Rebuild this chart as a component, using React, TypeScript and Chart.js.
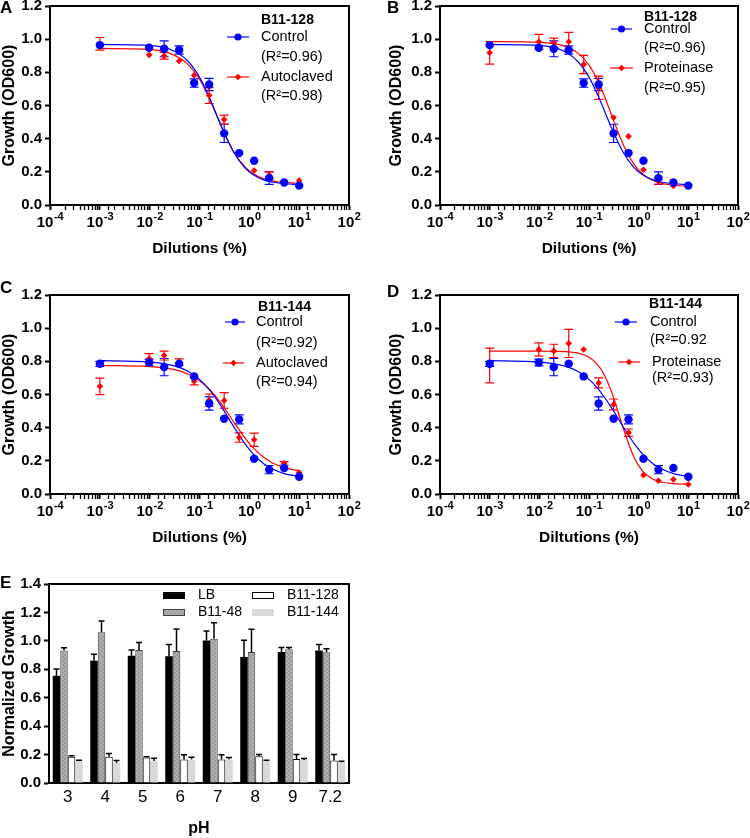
import React, { useEffect, useRef } from 'react';
import { Chart, registerables } from 'chart.js';

Chart.register(...registerables);

const FONT = "'Liberation Sans', Arial, Helvetica, sans-serif";
const BLUE = '#0000ff';
const RED = '#ff0000';

// ---------- data: dose-response panels ----------
const DILUTIONS = [0.001, 0.009765625, 0.01953125, 0.0390625, 0.078125, 0.15625, 0.3125, 0.625, 1.25, 2.5, 5, 10];

const B128_CONTROL = [0.964, 0.948, 0.942, 0.935, 0.735, 0.727, 0.432, 0.313, 0.267, 0.162, 0.136, 0.117];
const B128_CONTROL_ERR = [0, 0, 0.048, 0.025, 0.025, 0.037, 0.055, 0, 0, 0.038, 0, 0];
const B128_AUTOCLAVED = [0.972, 0.905, 0.9, 0.868, 0.783, 0.66, 0.515, 0.31, 0.208, 0.18, 0.135, 0.147];
const B128_AUTOCLAVED_ERR = [0.038, 0, 0.02, 0, 0, 0.048, 0.027, 0, 0, 0.02, 0, 0];
const B128_PROTEINASE = [0.918, 0.984, 0.978, 0.984, 0.847, 0.707, 0.528, 0.414, 0.213, 0.145, 0.115, 0.12];
const B128_PROTEINASE_ERR = [0.068, 0.045, 0.028, 0.057, 0.055, 0.07, 0, 0, 0, 0.02, 0, 0];

const B144_CONTROL = [0.785, 0.793, 0.765, 0.785, 0.709, 0.546, 0.454, 0.45, 0.213, 0.147, 0.157, 0.104];
const B144_CONTROL_ERR = [0.015, 0.02, 0.052, 0, 0, 0.04, 0, 0.027, 0, 0.025, 0, 0];
const B144_AUTOCLAVED = [0.649, 0.817, 0.835, 0.795, 0.68, 0.566, 0.564, 0.34, 0.327, 0.15, 0.185, 0.13];
const B144_AUTOCLAVED_ERR = [0.05, 0.03, 0.027, 0.02, 0.022, 0.037, 0.047, 0.028, 0.04, 0, 0.01, 0];
const B144_PROTEINASE = [0.775, 0.871, 0.863, 0.908, 0.871, 0.67, 0.54, 0.37, 0.114, 0.08, 0.088, 0.058];
const B144_PROTEINASE_ERR = [0.105, 0.04, 0.04, 0.085, 0, 0.03, 0.033, 0.022, 0, 0, 0, 0];

// fitted curves at these dilutions
const CURVE_X = [0.001, 0.01, 0.03, 0.06, 0.1, 0.15, 0.2, 0.3, 0.5, 0.8, 1.2, 2, 3, 5, 10];
const FIT_128_CONTROL = [0.968, 0.962, 0.93, 0.864, 0.771, 0.664, 0.575, 0.448, 0.312, 0.227, 0.182, 0.15, 0.137, 0.128, 0.123];
const FIT_128_AUTOCLAVED = [0.944, 0.938, 0.905, 0.845, 0.758, 0.655, 0.57, 0.446, 0.315, 0.232, 0.188, 0.157, 0.144, 0.136, 0.131];
const FIT_128_PROTEINASE = [0.985, 0.981, 0.961, 0.916, 0.844, 0.75, 0.663, 0.524, 0.358, 0.247, 0.187, 0.146, 0.129, 0.119, 0.113];
const FIT_144_CONTROL = [0.804, 0.797, 0.774, 0.739, 0.691, 0.637, 0.588, 0.509, 0.4, 0.307, 0.241, 0.18, 0.149, 0.123, 0.105];
const FIT_144_AUTOCLAVED = [0.775, 0.768, 0.751, 0.722, 0.683, 0.638, 0.597, 0.527, 0.429, 0.342, 0.278, 0.218, 0.185, 0.159, 0.14];
const FIT_144_PROTEINASE = [0.862, 0.862, 0.859, 0.849, 0.824, 0.779, 0.722, 0.596, 0.388, 0.223, 0.138, 0.087, 0.071, 0.062, 0.059];

const Y_TICKS_DOSE = { min: 0, max: 1.2, step: 0.2 };
const X_RANGE = { min: 0.0001, max: 100 };

// ---------- data: pH panel ----------
const PH_LABELS = ['3', '4', '5', '6', '7', '8', '9', '7.2'];
const LB = [0.755, 0.861, 0.896, 0.892, 1.002, 0.887, 0.922, 0.932];
const LB_ERR = [0.047, 0.045, 0.04, 0.082, 0.068, 0.118, 0.031, 0.042];
const B48 = [0.932, 1.061, 0.936, 0.929, 1.014, 0.922, 0.941, 0.92];
const B48_ERR = [0.02, 0.078, 0.052, 0.155, 0.113, 0.16, 0.012, 0.024];
const B128 = [0.184, 0.184, 0.179, 0.165, 0.165, 0.188, 0.169, 0.158];
const B128_ERR = [0.007, 0.023, 0.005, 0.033, 0.033, 0.012, 0.031, 0.042];
const B144 = [0.153, 0.141, 0.153, 0.165, 0.165, 0.151, 0.16, 0.144];
const B144_ERR = [0.007, 0.017, 0.021, 0.016, 0.014, 0.009, 0.012, 0.009];

// ---------- helpers ----------
function isPow10(v: number): boolean {
  if (!(v > 0)) return false;
  const e = Math.round(Math.log10(v));
  return Math.abs(v / Math.pow(10, e) - 1) < 1e-6;
}
function xy(xs: number[], ys: number[]) {
  return xs.map((x, i) => ({ x, y: ys[i] }));
}

function drawMarker(ctx: CanvasRenderingContext2D, style: string, x: number, y: number, r: number, color: string) {
  ctx.save();
  ctx.fillStyle = color;
  ctx.beginPath();
  if (style === 'circle') {
    ctx.arc(x, y, r, 0, Math.PI * 2);
  } else {
    ctx.moveTo(x, y - r);
    ctx.lineTo(x + r, y);
    ctx.lineTo(x, y + r);
    ctx.lineTo(x - r, y);
    ctx.closePath();
  }
  ctx.fill();
  ctx.restore();
}

const errorBarPlugin = {
  id: 'errorBars',
  beforeDatasetsDraw(chart: any) {
    const ctx = chart.ctx;
    const yScale = chart.scales.y;
    chart.data.datasets.forEach((ds: any, i: number) => {
      if (!ds.errorBars) return;
      const meta = chart.getDatasetMeta(i);
      ctx.save();
      ctx.strokeStyle = ds.errorColor;
      ctx.lineWidth = ds.errorWidth || 1.2;
      meta.data.forEach((el: any, j: number) => {
        const e = ds.errorBars[j];
        if (!e) return;
        const raw = ds.data[j];
        const v = typeof raw === 'number' ? raw : raw.y;
        const x = el.x;
        const cap = ds.errorCap || 4.5;
        const yTop = yScale.getPixelForValue(v + e);
        const yBot = ds.errorUpOnly ? yScale.getPixelForValue(v) : yScale.getPixelForValue(v - e);
        ctx.beginPath();
        ctx.moveTo(x, yTop);
        ctx.lineTo(x, yBot);
        ctx.moveTo(x - cap, yTop);
        ctx.lineTo(x + cap, yTop);
        if (!ds.errorUpOnly) {
          ctx.moveTo(x - cap, yBot);
          ctx.lineTo(x + cap, yBot);
        }
        ctx.stroke();
      });
      ctx.restore();
    });
  },
};

const framePlugin = {
  id: 'frame',
  afterDraw(chart: any, _a: any, opts: any) {
    const { ctx, chartArea: a } = chart;
    ctx.save();
    ctx.strokeStyle = '#000';
    ctx.lineWidth = 2;
    ctx.beginPath();
    ctx.moveTo(a.left - 1, a.top);
    ctx.lineTo(a.right, a.top);
    ctx.lineTo(a.right, a.bottom + 1);
    ctx.stroke();
    if (opts && opts.letter) {
      ctx.fillStyle = '#000';
      ctx.font = `bold 17px ${FONT}`;
      ctx.textBaseline = 'middle';
      ctx.textAlign = 'left';
      ctx.fillText(opts.letter, a.left + opts.dx, a.top + opts.dy);
    }
    ctx.restore();
  },
};

// power-of-ten tick labels with a raised exponent, placed through the x scale
const logLabelPlugin = {
  id: 'logLabels',
  afterDraw(chart: any) {
    const s = chart.scales.x;
    const a = chart.chartArea;
    const ctx = chart.ctx;
    ctx.save();
    ctx.fillStyle = '#000';
    ctx.textBaseline = 'middle';
    ctx.textAlign = 'left';
    s.ticks.forEach((t: any) => {
      if (!isPow10(t.value)) return;
      const e = String(Math.round(Math.log10(t.value)));
      ctx.font = `bold 15px ${FONT}`;
      const wb = ctx.measureText('10').width;
      ctx.font = `bold 11px ${FONT}`;
      const we = ctx.measureText(e).width;
      const x0 = s.getPixelForValue(t.value) - (wb + we) / 2;
      const y = a.bottom + 18;
      ctx.font = `bold 15px ${FONT}`;
      ctx.fillText('10', x0, y);
      ctx.font = `bold 11px ${FONT}`;
      ctx.fillText(e, x0 + wb + 0.5, y - 6);
    });
    ctx.restore();
  },
};

const doseLegendPlugin = {
  id: 'doseLegend',
  afterDraw(chart: any, _a: any, opts: any) {
    if (!opts || !opts.title) return;
    const { ctx, chartArea: a } = chart;
    ctx.save();
    ctx.textBaseline = 'middle';
    ctx.textAlign = 'left';
    ctx.fillStyle = '#000';
    ctx.font = `bold 14px ${FONT}`;
    ctx.fillText(opts.title, a.left + opts.titleX, a.top + opts.titleY);
    ctx.font = `14.5px ${FONT}`;
    const entries = opts.entries || [];
    for (let k = 0; k < entries.length; k++) {
      const e = entries[k];
      const y = a.top + e.y;
      ctx.strokeStyle = e.color;
      ctx.lineWidth = 1.2;
      ctx.beginPath();
      ctx.moveTo(a.left + e.x1, y);
      ctx.lineTo(a.left + e.x2, y);
      ctx.stroke();
      drawMarker(ctx, e.marker, a.left + (e.x1 + e.x2) / 2, y, e.marker === 'circle' ? 3.6 : 3.2, e.color);
      ctx.fillStyle = '#000';
      ctx.fillText(e.label, a.left + e.tx, y);
      ctx.fillText(e.r2, a.left + e.tx, a.top + e.r2y);
    }
    ctx.restore();
  },
};

const barLegendPlugin = {
  id: 'barLegend',
  afterDraw(chart: any, _a: any, opts: any) {
    if (!opts || !opts.items) return;
    const { ctx, chartArea: a } = chart;
    ctx.save();
    ctx.textBaseline = 'middle';
    ctx.textAlign = 'left';
    ctx.font = `14px ${FONT}`;
    const items = opts.items;
    for (let k = 0; k < items.length; k++) {
      const it = items[k];
      const ds = chart.data.datasets[it.dataset];
      const sx = a.left + it.x;
      const sy = a.top + it.y;
      ctx.fillStyle = ds.backgroundColor;
      ctx.fillRect(sx, sy, 22, 7);
      if (ds.borderWidth) {
        ctx.strokeStyle = ds.borderColor;
        ctx.lineWidth = 1;
        ctx.strokeRect(sx + 0.5, sy + 0.5, 21, 6);
      }
      ctx.fillStyle = '#000';
      ctx.fillText(ds.label, sx + 35, sy + 3.5);
    }
    ctx.restore();
  },
};

// ---------- chart configs ----------
function yAxisDose(title: string, width: number) {
  return {
    min: Y_TICKS_DOSE.min,
    max: Y_TICKS_DOSE.max,
    afterFit: (s: any) => {
      s.width = width;
    },
    ticks: {
      stepSize: Y_TICKS_DOSE.step,
      padding: 3,
      color: '#000',
      font: { family: FONT, size: 15, weight: 'bold' },
      callback: (v: any) => Number(v).toFixed(1),
    },
    grid: { drawOnChartArea: false, drawTicks: true, tickLength: 5, tickColor: '#000', tickWidth: 2, color: '#000' },
    border: { display: true, color: '#000', width: 2 },
    title: { display: true, text: title, color: '#000', padding: 0, font: { family: FONT, size: 16, weight: 'bold' } },
  };
}

interface Entry { label: string; r2: string; color: string; marker: string; x1: number; x2: number; tx: number; y: number; r2y: number }
interface DosePanel {
  letter: string; letterDx: number; letterDy: number;
  legendTitle: string; titleX: number; titleY: number;
  ctrl: number[]; ctrlErr: number[]; ctrlFit: number[];
  trt: number[]; trtErr: number[]; trtFit: number[];
  entries: Entry[];
  xTitle: string; yWidth: number; padRight: number;
}

function doseConfig(p: DosePanel): any {
  return {
    type: 'scatter',
    data: {
      datasets: [
        {
          label: p.entries[0].label, data: xy(DILUTIONS, p.ctrl), showLine: false,
          pointStyle: 'circle', pointRadius: 4.2, backgroundColor: BLUE, borderColor: BLUE, borderWidth: 0,
          errorBars: p.ctrlErr, errorColor: BLUE,
        },
        {
          label: p.entries[1].label, data: xy(DILUTIONS, p.trt), showLine: false,
          pointStyle: 'rectRot', pointRadius: 3.3, backgroundColor: RED, borderColor: RED, borderWidth: 0,
          errorBars: p.trtErr, errorColor: RED,
        },
        {
          label: p.entries[0].label + ' fit', data: xy(CURVE_X, p.ctrlFit), showLine: true, pointRadius: 0,
          borderColor: BLUE, borderWidth: 1.2, cubicInterpolationMode: 'monotone', fill: false,
        },
        {
          label: p.entries[1].label + ' fit', data: xy(CURVE_X, p.trtFit), showLine: true, pointRadius: 0,
          borderColor: RED, borderWidth: 1.2, cubicInterpolationMode: 'monotone', fill: false,
        },
      ],
    },
    options: {
      responsive: false,
      animation: false,
      devicePixelRatio: 1,
      layout: { padding: { top: 16, right: p.padRight, left: 0, bottom: 0 } },
      plugins: {
        legend: { display: false },
        tooltip: { enabled: false },
        frame: { letter: p.letter, dx: p.letterDx, dy: p.letterDy },
        doseLegend: { title: p.legendTitle, titleX: p.titleX, titleY: p.titleY, entries: p.entries },
      },
      scales: {
        x: {
          type: 'logarithmic',
          min: X_RANGE.min,
          max: X_RANGE.max,
          afterFit: (s: any) => {
            s.height = 60;
          },
          ticks: { display: false, autoSkip: false, maxRotation: 0 },
          grid: {
            drawOnChartArea: false, drawTicks: true, tickLength: 5, tickColor: '#000', color: '#000',
            tickWidth: (c: any) => (c.tick && isPow10(c.tick.value) ? 2 : 1.3),
          },
          border: { display: true, color: '#000', width: 2 },
          title: { display: true, text: p.xTitle, color: '#000', padding: { top: 0, bottom: 7 }, font: { family: FONT, size: 15.5, weight: 'bold' } },
        },
        y: yAxisDose('Growth (OD600)', p.yWidth),
      },
    },
    plugins: [errorBarPlugin, framePlugin, logLabelPlugin, doseLegendPlugin],
  };
}

function makePattern(): any {
  const c = document.createElement('canvas');
  c.width = 4;
  c.height = 4;
  const g = c.getContext('2d')!;
  g.fillStyle = '#9a9a9a';
  g.fillRect(0, 0, 4, 4);
  g.fillStyle = '#b0b0b0';
  g.fillRect(0, 0, 2, 2);
  g.fillRect(2, 2, 2, 2);
  return g.createPattern(c, 'repeat');
}

function phConfig(): any {
  const pattern = makePattern();
  return {
    type: 'bar',
    data: {
      labels: PH_LABELS,
      datasets: [
        { label: 'LB', data: LB, backgroundColor: '#000000', borderColor: '#000000', borderWidth: 0, errorBars: LB_ERR },
        { label: 'B11-48', data: B48, backgroundColor: pattern, borderColor: '#404040', borderWidth: 1, errorBars: B48_ERR },
        { label: 'B11-128', data: B128, backgroundColor: '#ffffff', borderColor: '#000000', borderWidth: 1, errorBars: B128_ERR },
        { label: 'B11-144', data: B144, backgroundColor: '#d9d9d9', borderColor: '#d9d9d9', borderWidth: 0, errorBars: B144_ERR },
      ].map((d) => ({ ...d, errorColor: '#000', errorUpOnly: true, errorCap: 3, errorWidth: 1.5, categoryPercentage: 0.8, barPercentage: 1.0 })),
    },
    options: {
      responsive: false,
      animation: false,
      devicePixelRatio: 1,
      layout: { padding: { top: 16, right: 26, left: 0, bottom: 0 } },
      plugins: {
        legend: { display: false },
        tooltip: { enabled: false },
        frame: { letter: 'E', dx: -49, dy: -1 },
        barLegend: {
          items: [
            { dataset: 0, x: 114, y: 8 },
            { dataset: 1, x: 114, y: 25 },
            { dataset: 2, x: 203, y: 8 },
            { dataset: 3, x: 203, y: 25 },
          ],
        },
      },
      scales: {
        x: {
          afterFit: (s: any) => {
            s.height = 55;
          },
          grid: { display: false, drawTicks: false },
          border: { display: true, color: '#000', width: 2 },
          ticks: { padding: 4, color: '#000', font: { family: FONT, size: 17 } },
          title: { display: true, text: 'pH', color: '#000', padding: 0, font: { family: FONT, size: 16, weight: 'bold' } },
        },
        y: {
          min: 0,
          max: 1.4,
          afterFit: (s: any) => {
            s.width = 49;
          },
          ticks: { stepSize: 0.2, padding: 3, color: '#000', font: { family: FONT, size: 15, weight: 'bold' }, callback: (v: any) => Number(v).toFixed(1) },
          grid: { drawOnChartArea: false, drawTicks: true, tickLength: 5, tickColor: '#000', tickWidth: 2, color: '#000' },
          border: { display: true, color: '#000', width: 2 },
          title: { display: true, text: 'Normalized Growth', color: '#000', padding: 0, font: { family: FONT, size: 16, weight: 'bold' } },
        },
      },
    },
    plugins: [errorBarPlugin, framePlugin, barLegendPlugin],
  };
}

// ---------- panels ----------
const PANEL_A: DosePanel = {
  letter: 'A', letterDx: -50, letterDy: 2,
  legendTitle: 'B11-128', titleX: 211, titleY: 14,
  ctrl: B128_CONTROL, ctrlErr: B128_CONTROL_ERR, ctrlFit: FIT_128_CONTROL,
  trt: B128_AUTOCLAVED, trtErr: B128_AUTOCLAVED_ERR, trtFit: FIT_128_AUTOCLAVED,
  entries: [
    { label: 'Control', r2: '(R\u00B2=0.96)', color: BLUE, marker: 'circle', x1: 177, x2: 199, tx: 211, y: 31, r2y: 51 },
    { label: 'Autoclaved', r2: '(R\u00B2=0.98)', color: RED, marker: 'diamond', x1: 177, x2: 199, tx: 211, y: 71, r2y: 90 },
  ],
  xTitle: 'Dilutions (%)', yWidth: 50, padRight: 26,
};
const PANEL_B: DosePanel = {
  letter: 'B', letterDx: -53, letterDy: 2,
  legendTitle: 'B11-128', titleX: 204, titleY: 11,
  ctrl: B128_CONTROL, ctrlErr: B128_CONTROL_ERR, ctrlFit: FIT_128_CONTROL,
  trt: B128_PROTEINASE, trtErr: B128_PROTEINASE_ERR, trtFit: FIT_128_PROTEINASE,
  entries: [
    { label: 'Control', r2: '(R\u00B2=0.96)', color: BLUE, marker: 'circle', x1: 171, x2: 192, tx: 204, y: 23, r2y: 42 },
    { label: 'Proteinase', r2: '(R\u00B2=0.95)', color: RED, marker: 'diamond', x1: 170, x2: 193, tx: 204, y: 62, r2y: 82 },
  ],
  xTitle: 'Dilutions (%)', yWidth: 53, padRight: 12,
};
const PANEL_C: DosePanel = {
  letter: 'C', letterDx: -50, letterDy: -7,
  legendTitle: 'B11-144', titleX: 208, titleY: 12,
  ctrl: B144_CONTROL, ctrlErr: B144_CONTROL_ERR, ctrlFit: FIT_144_CONTROL,
  trt: B144_AUTOCLAVED, trtErr: B144_AUTOCLAVED_ERR, trtFit: FIT_144_AUTOCLAVED,
  entries: [
    { label: 'Control', r2: '(R\u00B2=0.92)', color: BLUE, marker: 'circle', x1: 175, x2: 195, tx: 206, y: 27, r2y: 48 },
    { label: 'Autoclaved', r2: '(R\u00B2=0.94)', color: RED, marker: 'diamond', x1: 173, x2: 194, tx: 206, y: 68, r2y: 87 },
  ],
  xTitle: 'Dilutions (%)', yWidth: 50, padRight: 26,
};
const PANEL_D: DosePanel = {
  letter: 'D', letterDx: -53, letterDy: -3,
  legendTitle: 'B11-144', titleX: 209, titleY: 9,
  ctrl: B144_CONTROL, ctrlErr: B144_CONTROL_ERR, ctrlFit: FIT_144_CONTROL,
  trt: B144_PROTEINASE, trtErr: B144_PROTEINASE_ERR, trtFit: FIT_144_PROTEINASE,
  entries: [
    { label: 'Control', r2: '(R\u00B2=0.92', color: BLUE, marker: 'circle', x1: 175, x2: 197, tx: 210, y: 27, r2y: 45 },
    { label: 'Proteinase', r2: '(R\u00B2=0.93)', color: RED, marker: 'diamond', x1: 178, x2: 200, tx: 212, y: 67, r2y: 83 },
  ],
  xTitle: 'Diltutions (%)', yWidth: 53, padRight: 12,
};

function ChartCanvas(props: { make: () => any; left: number; top: number; width: number; height: number }) {
  const ref = useRef<HTMLCanvasElement>(null);
  useEffect(() => {
    const chart = new Chart(ref.current as HTMLCanvasElement, props.make());
    return () => chart.destroy();
  }, []);
  return (
    <canvas
      ref={ref}
      width={props.width}
      height={props.height}
      style={{ position: 'absolute', left: props.left, top: props.top, width: props.width, height: props.height }}
    />
  );
}

export default function App() {
  Chart.defaults.font.family = FONT;
  Chart.defaults.color = '#000';
  return (
    <div style={{ position: 'absolute', left: 0, top: 0, width: 750, height: 838, background: '#fff', overflow: 'hidden' }}>
      <ChartCanvas make={() => doseConfig(PANEL_A)} left={0} top={-10} width={375} height={275} />
      <ChartCanvas make={() => doseConfig(PANEL_B)} left={387} top={-10} width={363} height={275} />
      <ChartCanvas make={() => doseConfig(PANEL_C)} left={0} top={279} width={375} height={275} />
      <ChartCanvas make={() => doseConfig(PANEL_D)} left={387} top={279} width={363} height={275} />
      <ChartCanvas make={phConfig} left={0} top={568} width={375} height={270} />
    </div>
  );
}
